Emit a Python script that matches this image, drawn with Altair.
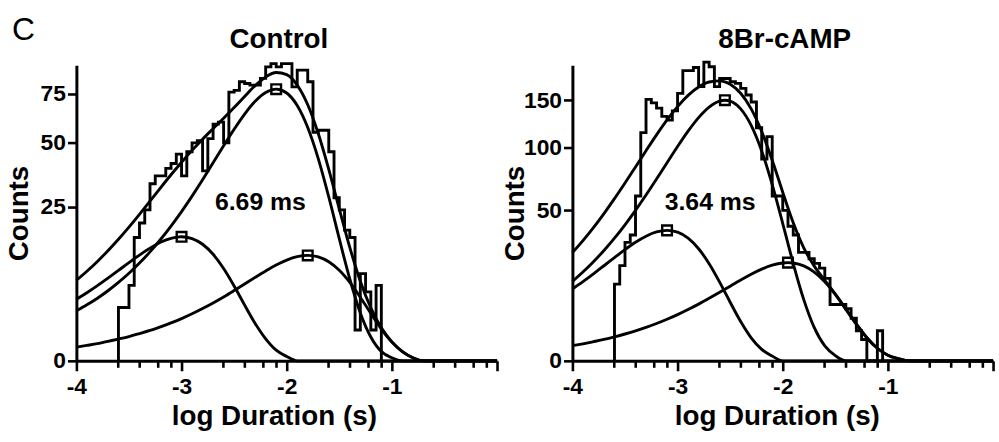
import altair as alt
import pandas as pd

FONT = "Liberation Sans"
PLOT_W, PLOT_H = 424, 298
BIN_W = 0.05

# ---------------- Control ----------------
ctrl_bin_lo = -3.60
ctrl_counts = [3, 3, 6, 16, 20, 24, 33, 36, 36, 39, 41, 45, 36, 46, 50, 51, 38, 52, 59, 60,
               50, 76, 77, 82, 81, 80, 80, 84, 91, 93, 91, 93, 93, 79, 89, 89, 82, 55, 56, 56,
               46, 28, 24, 18, 16, 1, 8, 5, 1, 6]

ctrl_curve_x = [-4.0, -3.9, -3.8, -3.7, -3.6, -3.5, -3.4, -3.3, -3.2, -3.1,
                -3.0, -2.9, -2.8, -2.7, -2.6, -2.5, -2.4, -2.3, -2.2, -2.1,
                -2.0, -1.9, -1.8, -1.7, -1.6, -1.5, -1.4, -1.3, -1.2, -1.1,
                -1.0, -0.9, -0.8, -0.7, -0.6, -0.5, -0.4, -0.3, -0.2, -0.1, 0.0]
ctrl_fit_total = [6.82, 8.44, 10.40, 12.77, 15.57, 18.84, 22.61, 26.83, 31.50, 36.44,
                  41.53, 46.64, 51.70, 56.75, 61.96, 67.56, 73.61, 79.72, 84.82, 87.48,
                  86.22, 80.04, 69.01, 54.42, 38.60, 24.32, 13.53, 6.68, 2.96, 1.15,
                  0.38, 0.09, 0.01, 0, 0, 0, 0, 0, 0, 0, 0]
ctrl_fit_fast = [3.99, 4.89, 5.96, 7.20, 8.60, 10.15, 11.77, 13.37, 14.79, 15.81,
                 16.2, 15.74, 14.31, 11.95, 8.97, 5.89, 3.27, 1.47, 0.51, 0.12,
                 0.02, 0, 0, 0, 0, 0, 0, 0, 0, 0,
                 0, 0, 0, 0, 0, 0, 0, 0, 0, 0, 0]
ctrl_fit_mid = [2.63, 3.30, 4.13, 5.17, 6.47, 8.07, 10.06, 12.49, 15.49, 19.11,
                23.45, 28.57, 34.51, 41.27, 48.69, 56.47, 64.13, 70.92, 75.81, 77.7,
                75.52, 68.62, 57.31, 43.05, 28.27, 15.69, 7.05, 2.42, 0.60, 0.09,
                0.01, 0, 0, 0, 0, 0, 0, 0, 0, 0, 0]
ctrl_fit_slow = [0.20, 0.25, 0.31, 0.40, 0.50, 0.62, 0.78, 0.97, 1.22, 1.52,
                 1.88, 2.33, 2.88, 3.53, 4.30, 5.20, 6.21, 7.33, 8.50, 9.66,
                 10.68, 11.42, 11.7, 11.37, 10.33, 8.63, 6.48, 4.26, 2.36, 1.06,
                 0.37, 0.09, 0.01, 0, 0, 0, 0, 0, 0, 0, 0]
ctrl_peak_x = [-3.0, -2.1, -1.8]
ctrl_peak_y = [16.2, 77.7, 11.7]

# ---------------- 8Br-cAMP ----------------
camp_bin_lo = -3.60
camp_counts = [13, 20, 31, 35, 60, 115, 151, 147, 141, 132, 128, 138, 158, 186, 186, 190, 166,
               197, 191, 166, 176, 176, 172, 170, 164, 156, 148, 120, 90, 111, 60, 60, 50, 40,
               35, 26, 26, 23, 21, 19, 15, 7, 7, 7, 6, 4, 2, 1, 0, 0, 2]

camp_curve_x = [-4.0, -3.9, -3.8, -3.7, -3.6, -3.5, -3.4, -3.3, -3.2, -3.1,
                -3.0, -2.9, -2.8, -2.7, -2.6, -2.55, -2.5, -2.4, -2.3, -2.2,
                -2.1, -2.0, -1.95, -1.9, -1.8, -1.7, -1.6, -1.5, -1.4, -1.3,
                -1.2, -1.1, -1.0, -0.9, -0.8, -0.7, -0.6, -0.5, -0.4, -0.3,
                -0.2, -0.1, 0.0]
camp_fit_total = [25.82, 31.89, 39.19, 47.88, 58.07, 69.81, 83.05, 97.50, 112.75, 128.12,
                  142.72, 155.56, 165.50, 171.67, 173.08, 171.75, 168.87, 158.07, 140.20, 116.15,
                  88.85, 62.80, 51.59, 42.06, 28.20, 19.82, 14.31, 9.80, 5.91, 2.97,
                  1.18, 0.35, 0.07, 0.01, 0, 0, 0, 0, 0, 0,
                  0, 0, 0]
camp_fit_fast = [11.35, 13.83, 16.70, 19.97, 23.56, 27.33, 31.04, 34.32, 36.69, 37.6,
                 36.54, 33.21, 27.73, 20.83, 13.68, 10.44, 7.59, 3.41, 1.17, 0.29,
                 0.05, 0, 0, 0, 0, 0, 0, 0, 0, 0,
                 0, 0, 0, 0, 0, 0, 0, 0, 0, 0,
                 0, 0, 0]
camp_fit_mid = [13.96, 17.42, 21.68, 26.90, 33.24, 40.89, 50.03, 60.71, 72.98, 86.70,
                101.46, 116.54, 130.67, 142.22, 149.04, 150.0, 148.97, 140.25, 122.48, 97.31,
                68.61, 41.64, 30.29, 20.91, 8.28, 2.43, 0.49, 0.06, 0, 0,
                0, 0, 0, 0, 0, 0, 0, 0, 0, 0,
                0, 0, 0]
camp_fit_slow = [0.51, 0.64, 0.81, 1.01, 1.27, 1.59, 1.98, 2.47, 3.08, 3.82,
                 4.72, 5.81, 7.10, 8.62, 10.36, 11.31, 12.31, 14.41, 16.55, 18.55,
                 20.19, 21.16, 21.3, 21.15, 19.92, 17.39, 13.82, 9.74, 5.91, 2.97,
                 1.18, 0.35, 0.07, 0.01, 0, 0, 0, 0, 0, 0,
                 0, 0, 0]
camp_peak_x = [-3.1, -2.55, -1.95]
camp_peak_y = [37.6, 150.0, 21.3]

# x axis: decades with minor ticks inside each decade
major_ticks = [-4, -3, -2, -1, 0]
minor_offsets = [0.398, 0.602, 0.778, 0.903]
minor_ticks = [d + o for d in (-4, -3, -2, -1) for o in minor_offsets]


def step_outline(lo, counts):
    edges = [round(lo + BIN_W * i, 3) for i in range(len(counts) + 1)]
    xs = [edges[0]] + edges[:-1] + [edges[-1]]
    ys = [0] + list(counts) + [0]
    return pd.DataFrame({"x": xs, "y": ys, "order": list(range(len(xs)))})


def curves_frame(xs, fits):
    rows = []
    for name, ys in fits.items():
        for x, y in zip(xs, ys):
            rows.append({"x": x, "y": y, "curve": name})
    return pd.DataFrame(rows)


def panel(title, lo, counts, cx, fits, px, py, ymax, yticks, note, note_x, note_y,
          xtitle_x, title_x, panel_letter=None):
    x_axis = alt.Axis(
        values=major_ticks,
        labelExpr="datum.value == 0 ? '' : toString(datum.value)",
        labelFlush=False, labelOverlap=False,
        title="log Duration (s)",
        titleX=xtitle_x, titleY=64, titleBaseline="alphabetic", titleAlign="center",
        labelBaseline="alphabetic", labelPadding=23,
    )
    y_axis = alt.Axis(
        values=yticks,
        labelExpr="toString(datum.value)",
        labelFlush=False, labelOverlap=False,
        title="Counts",
        titleX=-49, titleBaseline="alphabetic",
        labelPadding=2, tickSize=9,
    )
    xs = alt.Scale(domain=[-4, 0], nice=False, zero=False)
    ys = alt.Scale(type="sqrt", domain=[0, ymax], nice=False)

    def X():
        return alt.X("x:Q", scale=xs, axis=x_axis)

    def Y():
        return alt.Y("y:Q", scale=ys, axis=y_axis)

    hist = alt.Chart(step_outline(lo, counts)).mark_line(
        interpolate="step-after", color="black", strokeWidth=2.9
    ).encode(x=X(), y=Y(), order="order:Q")

    curves = alt.Chart(curves_frame(cx, fits)).mark_line(
        interpolate="monotone", color="black", strokeWidth=2.9
    ).encode(x=X(), y=Y(), detail="curve:N")

    peaks = alt.Chart(pd.DataFrame({"x": px, "y": py})).mark_point(
        shape="square", filled=False, size=95, strokeWidth=2.4, color="black", opacity=1
    ).encode(x=X(), y=Y())

    label = alt.Chart(pd.DataFrame({"x": [note_x], "y": [note_y], "t": [note]})).mark_text(
        font=FONT, fontSize=25, fontWeight="bold", align="center", baseline="alphabetic",
        color="black"
    ).encode(x=X(), y=Y(), text="t:N")

    minor = alt.Chart(pd.DataFrame({"x": minor_ticks})).mark_rule(
        color="black", strokeWidth=2.6
    ).encode(x=X(), y=alt.value(PLOT_H), y2=alt.value(PLOT_H + 7))

    head = alt.Chart(pd.DataFrame({"t": [title]})).mark_text(
        font=FONT, fontSize=28, fontWeight="bold", align="center", baseline="alphabetic",
        color="black"
    ).encode(x=alt.value(title_x), y=alt.value(-17), text="t:N")

    layers = [hist, curves, peaks, label, minor, head]
    if panel_letter:
        letter = alt.Chart(pd.DataFrame({"t": [panel_letter]})).mark_text(
            font=FONT, fontSize=32, align="left", baseline="alphabetic", color="black"
        ).encode(x=alt.value(-65), y=alt.value(-25), text="t:N")
        layers.append(letter)

    return alt.layer(*layers).properties(width=PLOT_W, height=PLOT_H)


left = panel(
    "Control", ctrl_bin_lo, ctrl_counts, ctrl_curve_x,
    {"total": ctrl_fit_total, "fast": ctrl_fit_fast, "mid": ctrl_fit_mid, "slow": ctrl_fit_slow},
    ctrl_peak_x, ctrl_peak_y, 92, [0, 25, 50, 75], "6.69 ms", -2.25, 24,
    xtitle_x=199, title_x=204, panel_letter="C",
)
right = panel(
    "8Br-cAMP", camp_bin_lo, camp_counts, camp_curve_x,
    {"total": camp_fit_total, "fast": camp_fit_fast, "mid": camp_fit_mid, "slow": camp_fit_slow},
    camp_peak_x, camp_peak_y, 193, [0, 50, 100, 150], "3.64 ms", -2.69, 50,
    xtitle_x=206, title_x=214,
)

chart = alt.hconcat(left, right, spacing=76, bounds="flush").properties(
    padding={"left": 6, "top": 13, "right": 0, "bottom": 0}
).configure_view(stroke=None).configure_axis(
    domainColor="black", domainWidth=3, tickColor="black", tickWidth=2.6, tickSize=10,
    labelFont=FONT, labelFontSize=23, labelFontWeight="bold", labelColor="black",
    titleFont=FONT, titleFontSize=28, titleFontWeight="bold", titleColor="black",
    grid=False,
)

chart.save("out.html", embed_options={"renderer": "svg", "actions": False})
